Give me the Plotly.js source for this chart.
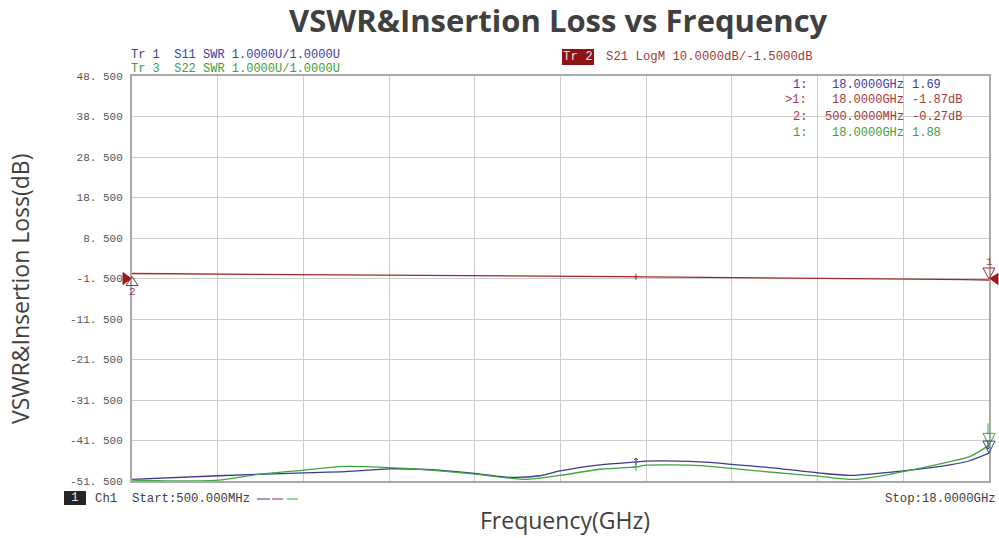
<!DOCTYPE html>
<html><head><meta charset="utf-8">
<script src="https://cdn.plot.ly/plotly-3.0.1.min.js"></script>
<style>html,body{margin:0;padding:0;background:#fff}</style>
</head><body><div id="chart" style="width:999px;height:538px"></div>
<script>
// ---- data ----
const freqS21 = [0.5,1.0,1.5,2.0,2.5,3.0,3.5,4.0,4.5,5.0,5.5,6.0,6.5,7.0,7.5,8.0,8.5,9.0,9.5,10.0,10.5,11.0,11.5,12.0,12.5,13.0,13.5,14.0,14.5,15.0,15.5,16.0,16.5,17.0,17.5,18.0];
const s21 = [-0.27,-0.30,-0.33,-0.36,-0.40,-0.43,-0.47,-0.52,-0.50,-0.58,-0.62,-0.66,-0.70,-0.73,-0.78,-0.82,-0.86,-0.90,-0.95,-0.99,-1.03,-1.08,-1.12,-1.15,-1.20,-1.25,-1.30,-1.34,-1.40,-1.45,-1.52,-1.58,-1.65,-1.72,-1.80,-1.87];

const freqS11 = [0.5,2.26,4.01,4.85,5.75,6.38,7.5,8.22,8.83,9.24,10.06,10.79,11.0,12.1,12.75,13.63,14.51,15.16,16.24,17.2,17.6,18.0];
const s11 = [1.04,1.13,1.20,1.23,1.30,1.29,1.19,1.09,1.13,1.25,1.40,1.47,1.49,1.47,1.41,1.32,1.20,1.14,1.25,1.40,1.50,1.69];

const freqS22 = [0.5,1.48,2.26,3.11,4.01,4.85,5.75,6.59,7.5,8.22,8.53,9.24,10.06,10.79,11.0,12.1,12.75,13.63,14.51,15.26,16.24,17.2,17.6,18.0];
const s22 = [1.02,1.00,1.02,1.17,1.27,1.36,1.33,1.27,1.17,1.07,1.04,1.14,1.29,1.35,1.39,1.38,1.31,1.21,1.12,1.04,1.23,1.48,1.60,1.88];

const yTickVals = [48.5,38.5,28.5,18.5,8.5,-1.5,-11.5,-21.5,-31.5,-41.5,-51.5];
const yTickText = ["48. 500","38. 500","28. 500","18. 500","8. 500","-1. 500","-11. 500","-21. 500","-31. 500","-41. 500","-51. 500"];

const tableIdx = ["1:", ">1:", "2:", "1:"];
const tableFreq = ["18.0000GHz","18.0000GHz","500.0000MHz","18.0000GHz"];
const tableVal = ["1.69","-1.87dB","-0.27dB","1.88"];

const midMarkerFreq = 10.79;
const midMarkerS11 = 1.47;
const midMarkerS22 = 1.35;
const midMarkerS21 = -1.06;

// ---- styling ----
const BLUE = '#3b3b8e', RED = '#a02a2a', GREEN = '#3fa63f';
const BLUE_T = '#3c3ca6', RED_T = '#a33a3a', GREEN_T = '#3e9e3e';
const L = 132, R = 989, T = 76, B = 481;
const X = px => (px - L) / (R - L);
const Y = py => (B - py) / (B - T);
const MONO = 'Liberation Mono, DejaVu Sans Mono, monospace';

function ann(text, px, py, color, size, xanchor, extra) {
  return Object.assign({
    text, xref: 'paper', yref: 'paper', x: X(px), y: Y(py),
    xanchor: xanchor || 'left', yanchor: 'middle', showarrow: false,
    font: {family: MONO, size: size || 12.3, color}, borderpad: 0, borderwidth: 0
  }, extra || {});
}

// marker glyph drawn in pixels around an anchor; xref may be an axis or 'paper'
function tri(xref, yref, x, y, path, color, fill) {
  return {type: 'path', xref, yref, xsizemode: 'pixel', ysizemode: 'pixel',
    xanchor: x, yanchor: y, path, line: {color, width: 1}, fillcolor: fill || 'rgba(0,0,0,0)'};
}

const traces = [
  {x: freqS21, y: s21, type: 'scatter', mode: 'lines', line: {color: RED, width: 1.3}, hoverinfo: 'skip'},
  {x: freqS11, y: s11, yaxis: 'y2', type: 'scatter', mode: 'lines', line: {color: BLUE, width: 1.3, shape: 'spline', smoothing: 0.8}, hoverinfo: 'skip'},
  {x: freqS22, y: s22, yaxis: 'y2', type: 'scatter', mode: 'lines', line: {color: GREEN, width: 1.3, shape: 'spline', smoothing: 0.8}, hoverinfo: 'skip'}
];

const annotations = [
  {text: '<b>VSWR&amp;Insertion Loss vs Frequency</b>', xref: 'paper', yref: 'paper', x: X(558), y: Y(20),
   xanchor: 'center', yanchor: 'middle', showarrow: false, font: {family: 'Open Sans', size: 31, color: '#404040'}},
  {text: 'VSWR&amp;Insertion Loss(dB)', xref: 'paper', yref: 'paper', x: X(20), y: Y(289), textangle: -90,
   xanchor: 'center', yanchor: 'middle', showarrow: false, font: {family: 'Open Sans', size: 23, color: '#404040'}},
  {text: 'Frequency(GHz)', xref: 'paper', yref: 'paper', x: X(565), y: Y(520),
   xanchor: 'center', yanchor: 'middle', showarrow: false, font: {family: 'Open Sans', size: 23, color: '#404040'}},
  ann('Tr 1  S11 SWR 1.0000U/1.0000U', 131, 55, BLUE_T, 12),
  ann('Tr 3  S22 SWR 1.0000U/1.0000U', 131, 69, GREEN_T, 12),
  ann('Tr 2', 562, 57, '#f3dede', 12.3, 'left', {bgcolor: '#8c1414', borderpad: 1}),
  ann('S21 LogM 10.0000dB/-1.5000dB', 606, 57, RED_T),
  ann(' 1 ', 64, 498, '#e8e8e8', 12, 'left', {bgcolor: '#262626', borderpad: 0}),
  ann('Ch1', 95, 499, '#404040', 12.3),
  ann('Start:500.000MHz', 132, 499, '#404040', 12.3),
  ann('Stop:18.0000GHz', 996, 499, '#404040', 12.3, 'right'),
  ann('2', 132, 292, RED_T, 11, 'center'),
  ann('1', 989, 262, RED_T, 11, 'center')
];
const rowY = [84.5, 100.5, 116.5, 132.5];
const rowColor = [BLUE_T, RED_T, RED_T, GREEN_T];
for (let i = 0; i < 4; i++) {
  annotations.push(ann(tableIdx[i], 807, rowY[i], rowColor[i], 12, 'right'));
  annotations.push(ann(tableFreq[i], 904, rowY[i], rowColor[i], 12, 'right'));
  annotations.push(ann(tableVal[i], 912, rowY[i], rowColor[i], 12, 'left'));
}

const shapes = [
  // reference-level pointers at the plot edges
  tri('paper', 'y', 0, -1.5, 'M -9 6 L -9 -6 L -1 0 Z', '#a01818', '#a01818'),
  tri('paper', 'y', 1, -1.5, 'M 9 5 L 9 -6 L 1 0 Z', '#a01818', '#a01818'),
  // S21 markers
  tri('paper', 'y', 0, s21[0], 'M 0 -3 L 6 -12 L -6 -12 Z', RED),
  tri('paper', 'y', 1, s21[s21.length-1], 'M -6 12 L 6 12 L 0 1 Z', RED),
  // S22 / S11 markers at stop frequency
  tri('paper', 'y2', 1, s22[s22.length-1], 'M -6 12 L 6 12 L 0 0 Z', GREEN),
  tri('paper', 'y2', 1, s11[s11.length-1], 'M -6 12 L 6 12 L 0 0 Z', BLUE),
  tri('paper', 'y2', 1, s22[s22.length-1], 'M -1 12 L -1 22', GREEN),
  tri('paper', 'y2', 1, s11[s11.length-1], 'M -1 4 L -1 12 M -3 6 L -1 4 L 1 6', BLUE),
  // small inactive marker ticks
  tri('x', 'y2', midMarkerFreq, midMarkerS11, 'M 0 -3 L 0 4 M -2 2 L 0 4 L 2 2', BLUE),
  tri('x', 'y2', midMarkerFreq, midMarkerS22, 'M 0 -4 L 0 3 M -3 0 L 3 0', GREEN),
  tri('x', 'y', midMarkerFreq, midMarkerS21, 'M 0 -3 L 0 3 M -2 0 L 2 0', RED),
  // trace colour dashes under the chart
  {type: 'line', xref: 'paper', yref: 'paper', x0: X(257), x1: X(270), y0: Y(499), y1: Y(499), line: {color: BLUE, width: 1}},
  {type: 'line', xref: 'paper', yref: 'paper', x0: X(272), x1: X(283), y0: Y(499), y1: Y(499), line: {color: RED, width: 1}},
  {type: 'line', xref: 'paper', yref: 'paper', x0: X(287), x1: X(298), y0: Y(499), y1: Y(499), line: {color: GREEN, width: 1}}
];

const layout = {
  width: 999, height: 538,
  margin: {l: L, r: 999 - R, t: T, b: 538 - B, pad: 0},
  paper_bgcolor: '#ffffff', plot_bgcolor: '#ffffff',
  showlegend: false,
  xaxis: {range: [0.5, 18], tick0: 0.5, dtick: 1.75, tickmode: 'linear', showticklabels: false, ticks: '',
    showgrid: true, gridcolor: '#cccccc', gridwidth: 1, showline: true, mirror: true,
    linecolor: '#a9a9a9', linewidth: 2, zeroline: false, fixedrange: true},
  yaxis: {range: [-51.5, 48.5], tickmode: 'array', tickvals: yTickVals, ticktext: yTickText,
    tickfont: {family: MONO, size: 11, color: '#555555'}, ticks: '', ticklabelstandoff: 5,
    showgrid: true, gridcolor: '#cccccc', gridwidth: 1, showline: true, mirror: true,
    linecolor: '#a9a9a9', linewidth: 2, zeroline: false, fixedrange: true},
  yaxis2: {range: [1, 11], overlaying: 'y', visible: false, fixedrange: true},
  annotations, shapes
};

Plotly.newPlot('chart', traces, layout, {staticPlot: true, displayModeBar: false});
</script></body></html>
